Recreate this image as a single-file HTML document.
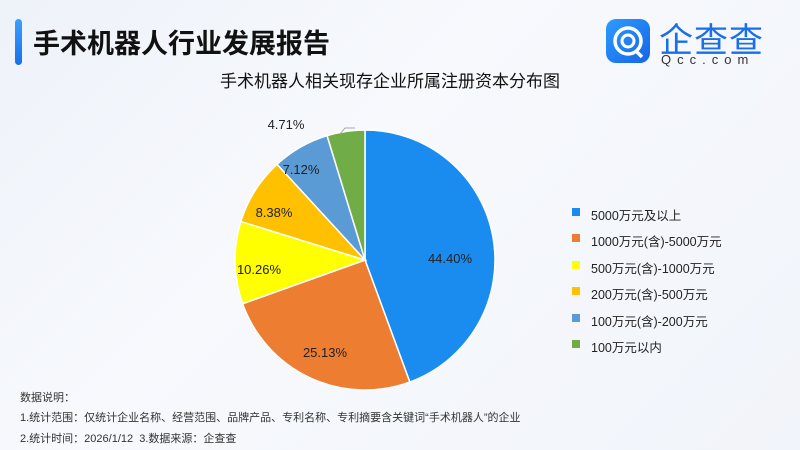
<!DOCTYPE html>
<html><head><meta charset="utf-8"><style>
body{margin:0;width:800px;height:450px;overflow:hidden;background:linear-gradient(135deg,#eef2f9 0%,#f7f9fd 40%,#f1f4fa 100%);font-family:"Liberation Sans","Noto Sans CJK SC",sans-serif;position:relative}
.t{position:absolute;white-space:nowrap;color:#222}
</style></head><body>
<div style="position:absolute;left:15px;top:19px;width:7px;height:46px;border-radius:4px;background:linear-gradient(#3aa0ff,#1a6fe8)"></div>
<div class="t" style="left:33px;top:22px;font-size:27px;font-weight:bold;color:#111">手术机器人行业发展报告</div>
<div style="position:absolute;left:606px;top:19px;width:44px;height:44px;border-radius:10px;background:linear-gradient(135deg,#2e9bff,#1565e6)">
<svg width="44" height="44"><circle cx="22" cy="22" r="13" fill="none" stroke="#fff" stroke-width="3.5"/><circle cx="22" cy="22" r="6" fill="none" stroke="#fff" stroke-width="3"/><path d="M30 32 L36 38" stroke="#fff" stroke-width="3.5"/></svg></div>
<div class="t" style="left:659px;top:13px;font-size:34px;color:#1a6fe8;letter-spacing:1px">企查查</div>
<div class="t" style="left:661px;top:52px;font-size:13px;color:#333;letter-spacing:6px">Qcc.com</div>
<div class="t" style="left:0;width:800px;text-align:center;top:67px;font-size:17px;color:#111;margin-left:-10px">手术机器人相关现存企业所属注册资本分布图</div>
<svg id="pie" width="800" height="450" style="position:absolute;left:0;top:0"></svg>
<div class="t" style="left:591px;top:203px;font-size:12.5px;line-height:26.4px;color:#222">
<div>5000万元及以上</div><div>1000万元(含)-5000万元</div><div>500万元(含)-1000万元</div><div>200万元(含)-500万元</div><div>100万元(含)-200万元</div><div>100万元以内</div></div>
<div style="position:absolute;left:572px;top:208px">
<div style="width:8px;height:8px;background:#1a8cf0;margin-bottom:18.4px"></div>
<div style="width:8px;height:8px;background:#ed7d31;margin-bottom:18.4px"></div>
<div style="width:8px;height:8px;background:#ffff00;margin-bottom:18.4px"></div>
<div style="width:8px;height:8px;background:#ffc000;margin-bottom:18.4px"></div>
<div style="width:8px;height:8px;background:#5b9bd5;margin-bottom:18.4px"></div>
<div style="width:8px;height:8px;background:#70ad47"></div></div>
<div class="t" style="left:20px;top:389px;font-size:11px;color:#333">数据说明：</div>
<div class="t" style="left:20px;top:409px;font-size:11px;color:#333">1.统计范围：仅统计企业名称、经营范围、品牌产品、专利名称、专利摘要含关键词“手术机器人”的企业</div>
<div class="t" style="left:20px;top:430px;font-size:11px;color:#333">2.统计时间：2026/1/12&nbsp;&nbsp;3.数据来源：企查查</div>
<script>
var d=[[44.40,'#1a8cf0',450,258],[25.13,'#ed7d31',325,352],[10.26,'#ffff00',259,269],[8.38,'#ffc000',274,212],[7.12,'#5b9bd5',301,169],[4.71,'#70ad47',286,124]];
var cx=365,cy=260,r=130,a=0,s='';
d.forEach(function(e){var a2=a+e[0]/100*2*Math.PI;
var x1=cx+r*Math.sin(a),y1=cy-r*Math.cos(a),x2=cx+r*Math.sin(a2),y2=cy-r*Math.cos(a2);
s+='<path d="M'+cx+' '+cy+'L'+x1+' '+y1+'A'+r+' '+r+' 0 '+((a2-a)>Math.PI?1:0)+' 1 '+x2+' '+y2+'Z" fill="'+e[1]+'" stroke="#fff" stroke-width="1.5"/>';a=a2;});
s+='<path d="M340 134 L345 128 L355 128" stroke="#aaa" fill="none"/>';
d.forEach(function(e){s+='<text x="'+e[2]+'" y="'+(e[3]+5)+'" text-anchor="middle" font-size="13" fill="#222" font-family="Liberation Sans,sans-serif">'+e[0].toFixed(2)+'%</text>';});
document.getElementById('pie').innerHTML=s;
</script>
</body></html>
